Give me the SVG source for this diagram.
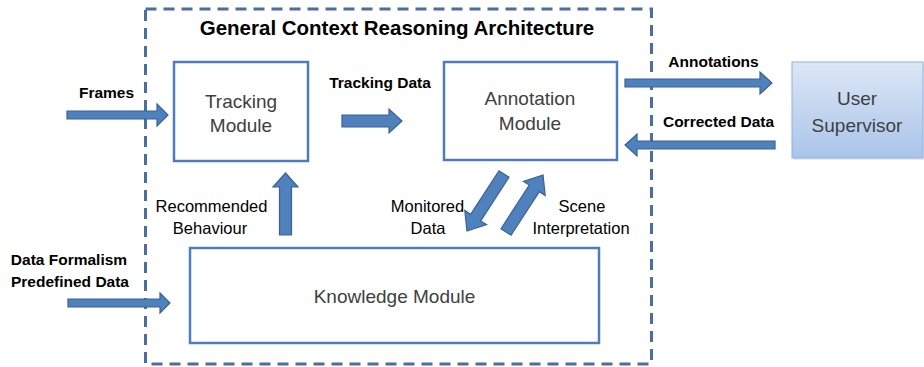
<svg xmlns="http://www.w3.org/2000/svg" width="924" height="367" viewBox="0 0 924 367">
<style>
.box{fill:#fff;stroke:#4f7dba;stroke-width:2.5}
.arr{fill:#4f81bd;stroke:#3a6296;stroke-width:1.2}
.node{font-family:"Liberation Sans",Arial,sans-serif;font-size:19px;fill:#404040;text-anchor:middle}
.lbl{font-family:"Liberation Sans",Arial,sans-serif;font-size:15.5px;font-weight:bold;fill:#000;text-anchor:middle}
.reg{font-family:"Liberation Sans",Arial,sans-serif;font-size:16.5px;fill:#000;text-anchor:middle}
.title{font-family:"Liberation Sans",Arial,sans-serif;font-size:20.5px;font-weight:bold;fill:#000;text-anchor:middle}
</style>
<defs>
<linearGradient id="ug" x1="0" y1="0" x2="0" y2="1">
<stop offset="0" stop-color="#dde7f5"/>
<stop offset="1" stop-color="#a9c4ea"/>
</linearGradient>
</defs>
<rect width="924" height="367" fill="#fff"/>
<g id="architecture">
<rect x="145.5" y="9" width="506" height="355" fill="none" stroke="#4a6f9e" stroke-width="3" stroke-dasharray="11 7"/>
<text class="title" x="397" y="35">General Context Reasoning Architecture</text>
</g>
<g id="tracking">
<rect class="box" x="174" y="62" width="134" height="99"/>
<text class="node" x="241" y="108">Tracking</text>
<text class="node" x="241" y="132">Module</text>
</g>
<g id="annotation">
<rect class="box" x="444" y="62" width="173" height="98"/>
<text class="node" x="530" y="105">Annotation</text>
<text class="node" x="530" y="130">Module</text>
</g>
<g id="knowledge">
<rect class="box" x="190" y="248" width="409" height="95"/>
<text class="node" x="394.5" y="303">Knowledge Module</text>
</g>
<g id="user">
<rect x="794" y="64" width="131" height="96" fill="#c8d6ea" opacity="0.5"/>
<rect x="792" y="62" width="131" height="96" fill="url(#ug)" stroke="#8fb0dc" stroke-width="1"/>
<text class="node" x="857" y="105">User</text>
<text class="node" x="857" y="132">Supervisor</text>
</g>
<g id="connectors">
<path class="arr" d="M67,111 L157,111 L157,104 L168,115 L157,126 L157,119 L67,119 Z"/>
<path class="arr" d="M342,115 L389,115 L389,109 L402,121 L389,133 L389,127 L342,127 Z"/>
<path class="arr" d="M625,79 L760,79 L760,72 L772,83 L760,94 L760,87 L625,87 Z"/>
<path class="arr" d="M775,141 L637,141 L637,134 L625,145 L637,156 L637,149 L775,149 Z"/>
<path class="arr" d="M68,299 L160,299 L160,293 L170,303 L160,313 L160,307 L68,307 Z"/>
<path class="arr" d="M279.5,235 L279.5,187 L273,187 L285.5,173 L298,187 L291.5,187 L291.5,235 Z"/>
<path class="arr" transform="translate(504,174) rotate(123)" d="M0,-6 L52,-6 L52,-13 L68,0 L52,13 L52,6 L0,6 Z"/>
<path class="arr" transform="translate(506,232) rotate(-57)" d="M0,-6 L52,-6 L52,-13 L68,0 L52,13 L52,6 L0,6 Z"/>
</g>
<g id="labels">
<text class="lbl" x="106.5" y="98">Frames</text>
<text class="lbl" x="380" y="88">Tracking Data</text>
<text class="lbl" x="713.5" y="67">Annotations</text>
<text class="lbl" x="718.5" y="127">Corrected Data</text>
<text class="lbl" x="69" y="265">Data Formalism</text>
<text class="lbl" x="70" y="287">Predefined Data</text>
<text class="reg" x="211.5" y="212">Recommended</text>
<text class="reg" x="210" y="234">Behaviour</text>
<text class="reg" x="427.5" y="212">Monitored</text>
<text class="reg" x="428" y="234">Data</text>
<text class="reg" x="582" y="212">Scene</text>
<text class="reg" x="581" y="234">Interpretation</text>
</g>
</svg>
